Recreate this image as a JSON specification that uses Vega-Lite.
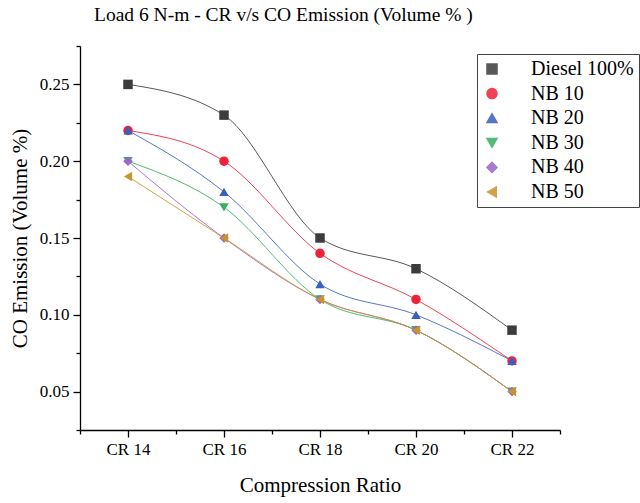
{
  "$schema": "https://vega.github.io/schema/vega-lite/v6.json",
  "autosize": "none",
  "width": 480,
  "height": 384,
  "padding": {"left": 80, "top": 46, "right": 80, "bottom": 73},
  "background": "white",
  "title": {
    "text": "Load 6 N-m - CR v/s CO Emission (Volume % )",
    "frame": "group",
    "anchor": "start",
    "dx": 14,
    "offset": 20,
    "font": "Liberation Serif",
    "fontSize": 19.5,
    "fontWeight": "normal",
    "color": "#000000"
  },
  "data": {
    "values": [
      {"fuel": "Diesel 100%", "cr": 14, "co": 0.25},
      {"fuel": "Diesel 100%", "cr": 16, "co": 0.23},
      {"fuel": "Diesel 100%", "cr": 18, "co": 0.15},
      {"fuel": "Diesel 100%", "cr": 20, "co": 0.13},
      {"fuel": "Diesel 100%", "cr": 22, "co": 0.09},
      {"fuel": "NB 10", "cr": 14, "co": 0.22},
      {"fuel": "NB 10", "cr": 16, "co": 0.20},
      {"fuel": "NB 10", "cr": 18, "co": 0.14},
      {"fuel": "NB 10", "cr": 20, "co": 0.11},
      {"fuel": "NB 10", "cr": 22, "co": 0.07},
      {"fuel": "NB 20", "cr": 14, "co": 0.22},
      {"fuel": "NB 20", "cr": 16, "co": 0.18},
      {"fuel": "NB 20", "cr": 18, "co": 0.12},
      {"fuel": "NB 20", "cr": 20, "co": 0.10},
      {"fuel": "NB 20", "cr": 22, "co": 0.07},
      {"fuel": "NB 30", "cr": 14, "co": 0.20},
      {"fuel": "NB 30", "cr": 16, "co": 0.17},
      {"fuel": "NB 30", "cr": 18, "co": 0.11},
      {"fuel": "NB 30", "cr": 20, "co": 0.09},
      {"fuel": "NB 30", "cr": 22, "co": 0.05},
      {"fuel": "NB 40", "cr": 14, "co": 0.20},
      {"fuel": "NB 40", "cr": 16, "co": 0.15},
      {"fuel": "NB 40", "cr": 18, "co": 0.11},
      {"fuel": "NB 40", "cr": 20, "co": 0.09},
      {"fuel": "NB 40", "cr": 22, "co": 0.05},
      {"fuel": "NB 50", "cr": 14, "co": 0.19},
      {"fuel": "NB 50", "cr": 16, "co": 0.15},
      {"fuel": "NB 50", "cr": 18, "co": 0.11},
      {"fuel": "NB 50", "cr": 20, "co": 0.09},
      {"fuel": "NB 50", "cr": 22, "co": 0.05}
    ]
  },
  "layer": [
    {
      "mark": {"type": "line", "interpolate": "monotone", "strokeWidth": 1, "opacity": 0.85},
      "encoding": {
        "x": {
          "field": "cr",
          "type": "quantitative",
          "scale": {"domain": [13, 23], "nice": false, "zero": false},
          "axis": {
            "orient": "bottom",
            "values": [14, 16, 18, 20, 22],
            "labelExpr": "'CR ' + datum.value",
            "title": "Compression Ratio",
            "titlePadding": 17,
            "tickSize": 7
          }
        },
        "y": {
          "field": "co",
          "type": "quantitative",
          "scale": {"domain": [0.025, 0.275], "nice": false, "zero": false},
          "axis": {
            "orient": "left",
            "values": [0.05, 0.1, 0.15, 0.2, 0.25],
            "format": ".2f",
            "title": "CO Emission (Volume %)",
            "titlePadding": 9,
            "tickSize": 7
          }
        },
        "color": {
          "field": "fuel",
          "type": "nominal",
          "scale": {
            "domain": ["Diesel 100%", "NB 10", "NB 20", "NB 30", "NB 40", "NB 50"],
            "range": ["#3c3c3c", "#ee2238", "#3a5fbf", "#33b060", "#9966cc", "#c8952a"]
          }
        }
      }
    },
    {
      "mark": {"type": "point", "filled": true, "size": 90, "opacity": 1},
      "encoding": {
        "x": {
          "field": "cr",
          "type": "quantitative",
          "axis": {
            "orient": "bottom",
            "values": [13, 15, 17, 19, 21, 23],
            "labels": false,
            "domain": false,
            "title": null,
            "tickSize": 4
          }
        },
        "y": {
          "field": "co",
          "type": "quantitative",
          "axis": {
            "orient": "left",
            "values": [0.025, 0.075, 0.125, 0.175, 0.225, 0.275],
            "labels": false,
            "domain": false,
            "title": null,
            "tickSize": 4
          }
        },
        "color": {
          "field": "fuel",
          "type": "nominal",
          "legend": {
            "title": null,
            "orient": "none",
            "legendX": 397,
            "legendY": 8,
            "padding": 5,
            "rowPadding": 4.6,
            "symbolSize": 100,
            "labelOffset": 29,
            "labelFont": "Liberation Serif",
            "labelFontSize": 20,
            "labelColor": "#000000",
            "strokeColor": "#444444",
            "fillColor": "#ffffff"
          }
        },
        "shape": {
          "field": "fuel",
          "type": "nominal",
          "scale": {
            "domain": ["Diesel 100%", "NB 10", "NB 20", "NB 30", "NB 40", "NB 50"],
            "range": ["square", "circle", "triangle-up", "triangle-down", "diamond", "triangle-left"]
          },
          "legend": null
        }
      }
    }
  ],
  "resolve": {"axis": {"x": "independent", "y": "independent"}},
  "config": {
    "view": {"stroke": null},
    "axis": {
      "grid": false,
      "domainColor": "#000000",
      "domainWidth": 1.3,
      "tickColor": "#000000",
      "tickWidth": 1.3,
      "labelFont": "Liberation Serif",
      "labelFontSize": 17,
      "labelColor": "#000000",
      "labelPadding": 4,
      "titleFont": "Liberation Serif",
      "titleFontSize": 21,
      "titleFontWeight": "normal",
      "titleColor": "#000000"
    }
  }
}
